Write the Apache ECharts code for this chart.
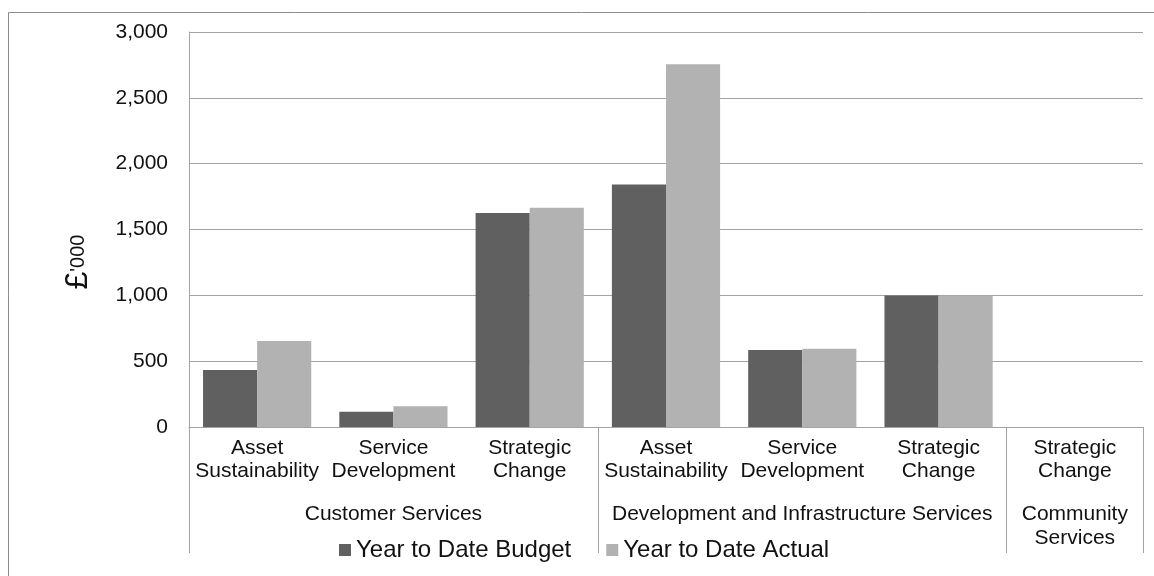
<!DOCTYPE html>
<html>
<head>
<meta charset="utf-8">
<script src="https://cdn.jsdelivr.net/npm/echarts@6/dist/echarts.min.js"></script>
<style>
    html, body { margin: 0; padding: 0; background: #fff; }
    #chart { width: 1154px; height: 576px; }
</style>
</head>
<body>
<div id="chart"></div>
<script>
// sub categories (first level of the axis)
var subCategories = [
    'Asset\nSustainability', 'Service\nDevelopment', 'Strategic\nChange',
    'Asset\nSustainability', 'Service\nDevelopment', 'Strategic\nChange',
    'Strategic\nChange'
];
// group names, placed on the middle slot of each group
var groupLabels = ['', 'Customer Services', '', '', 'Development and Infrastructure Services', '', 'Community\nServices'];
var groupStarts = [0, 3, 6];

var budget = [433, 116, 1626, 1841, 585, 998, 0];
var actual = [653, 157, 1666, 2756, 595, 996, 0];

var yTicks = [0, 500, 1000, 1500, 2000, 2500, 3000];

var font = 'Arial, "Liberation Sans", sans-serif';
var gridColor = '#a3a3a3';

var myChart = echarts.init(document.getElementById('chart'));

var option = {
    animation: false,
    textStyle: { fontFamily: font },
    grid: { left: 189, top: 32, right: 11, bottom: 149, containLabel: false },
    legend: {
        left: 334,
        top: 533,
        itemWidth: 12,
        itemHeight: 12,
        itemGap: 35,
        icon: 'rect',
        textStyle: { fontSize: 24, color: '#111', fontFamily: font },
        data: ['Year to Date Budget', 'Year to Date Actual']
    },
    xAxis: [
        {
            type: 'category',
            position: 'bottom',
            data: subCategories,
            axisLine: { lineStyle: { color: gridColor, width: 1 } },
            axisTick: { show: false },
            axisLabel: {
                interval: 0,
                margin: 10,
                fontSize: 21,
                lineHeight: 23,
                color: '#111',
                fontFamily: font
            }
        },
        {
            type: 'category',
            position: 'bottom',
            offset: 0,
            data: groupLabels,
            axisLine: { show: false },
            axisTick: {
                show: true,
                length: 126,
                interval: function (index) {
                    return groupStarts.indexOf(index) >= 0;
                },
                lineStyle: { color: gridColor, width: 1 }
            },
            axisLabel: {
                interval: 0,
                margin: 75,
                fontSize: 21,
                lineHeight: 24,
                color: '#111',
                fontFamily: font
            }
        }
    ],
    yAxis: {
        type: 'value',
        min: yTicks[0],
        max: yTicks[yTicks.length - 1],
        interval: 500,
        axisLine: { show: true, lineStyle: { color: gridColor } },
        axisTick: { show: false },
        splitLine: { lineStyle: { color: gridColor, width: 1 } },
        axisLabel: {
            margin: 21,
            fontSize: 21,
            color: '#111',
            fontFamily: font,
            formatter: function (v) { return v.toLocaleString('en-US'); }
        }
    },
    graphic: [
        {
            type: 'rect',
            silent: true,
            shape: { x: 8.5, y: 12.5, width: 1300, height: 800 },
            style: { fill: 'none', stroke: '#8c8c8c', lineWidth: 1 }
        },
        {
            type: 'text',
            silent: true,
            x: 78,
            y: 262,
            rotation: Math.PI / 2,
            style: {
                text: '{a|£}{b|\'000}',
                align: 'center',
                verticalAlign: 'middle',
                rich: {
                    a: { fontSize: 32, fontFamily: font, fill: '#111' },
                    b: { fontSize: 20, fontFamily: font, fill: '#111' }
                }
            }
        }
    ],
    series: [
        {
            name: 'Year to Date Budget',
            type: 'bar',
            xAxisIndex: 0,
            barGap: '0%',
            barCategoryGap: '20.6%',
            itemStyle: { color: '#606060' },
            data: budget
        },
        {
            name: 'Year to Date Actual',
            type: 'bar',
            xAxisIndex: 0,
            itemStyle: { color: '#b2b2b2' },
            data: actual
        }
    ]
};

myChart.setOption(option);
</script>
</body>
</html>
